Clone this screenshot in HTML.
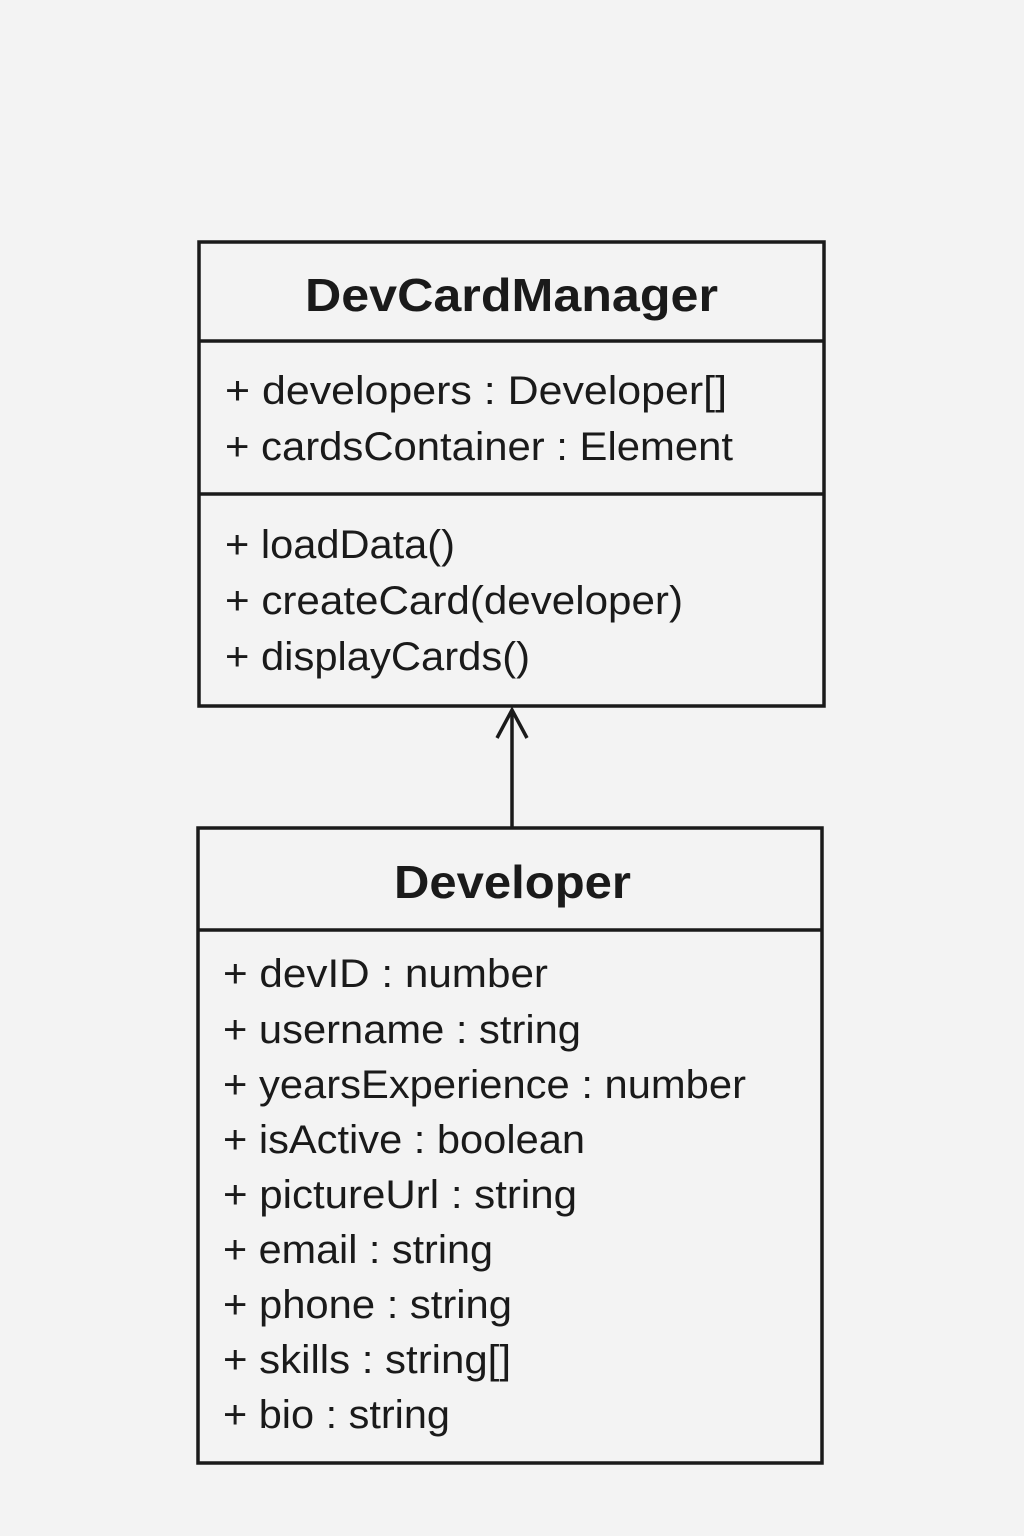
<!DOCTYPE html>
<html><head><meta charset="utf-8"><style>
html,body{margin:0;padding:0;background:#f3f3f3;}
svg{display:block}
text{font-family:"Liberation Sans",sans-serif;fill:#1a1a1a;}
.t{font-weight:bold;font-size:46px;}
.a{font-size:40px;}
</style></head><body>
<svg width="1024" height="1536" viewBox="0 0 1024 1536">
<rect width="1024" height="1536" fill="#f3f3f3"/>
<g fill="none" stroke="#1a1a1a" stroke-width="3.5">
<rect x="199" y="242" width="625" height="464"/>
<line x1="199" y1="341" x2="824" y2="341"/>
<line x1="199" y1="494" x2="824" y2="494"/>
<rect x="198" y="828" width="624" height="635"/>
<line x1="198" y1="930" x2="822" y2="930"/>
<line x1="512" y1="828" x2="512" y2="710"/>
<polyline points="497,738 512,710 527,738"/>
</g>
<text class="t" x="305" y="311" textLength="413" lengthAdjust="spacingAndGlyphs">DevCardManager</text>
<text class="a" x="225" y="404" textLength="502" lengthAdjust="spacingAndGlyphs">+ developers : Developer[]</text>
<text class="a" x="225" y="460" textLength="508" lengthAdjust="spacingAndGlyphs">+ cardsContainer : Element</text>
<text class="a" x="225" y="558" textLength="230" lengthAdjust="spacingAndGlyphs">+ loadData()</text>
<text class="a" x="225" y="614" textLength="458" lengthAdjust="spacingAndGlyphs">+ createCard(developer)</text>
<text class="a" x="225" y="670" textLength="305" lengthAdjust="spacingAndGlyphs">+ displayCards()</text>
<text class="t" x="394" y="898" textLength="237" lengthAdjust="spacingAndGlyphs">Developer</text>
<text class="a" x="223" y="987" textLength="325" lengthAdjust="spacingAndGlyphs">+ devID : number</text>
<text class="a" x="223" y="1043" textLength="358" lengthAdjust="spacingAndGlyphs">+ username : string</text>
<text class="a" x="223" y="1098" textLength="523" lengthAdjust="spacingAndGlyphs">+ yearsExperience : number</text>
<text class="a" x="223" y="1153" textLength="362" lengthAdjust="spacingAndGlyphs">+ isActive : boolean</text>
<text class="a" x="223" y="1208" textLength="354" lengthAdjust="spacingAndGlyphs">+ pictureUrl : string</text>
<text class="a" x="223" y="1263" textLength="270" lengthAdjust="spacingAndGlyphs">+ email : string</text>
<text class="a" x="223" y="1318" textLength="289" lengthAdjust="spacingAndGlyphs">+ phone : string</text>
<text class="a" x="223" y="1373" textLength="288" lengthAdjust="spacingAndGlyphs">+ skills : string[]</text>
<text class="a" x="223" y="1428" textLength="227" lengthAdjust="spacingAndGlyphs">+ bio : string</text>
</svg>
</body></html>
